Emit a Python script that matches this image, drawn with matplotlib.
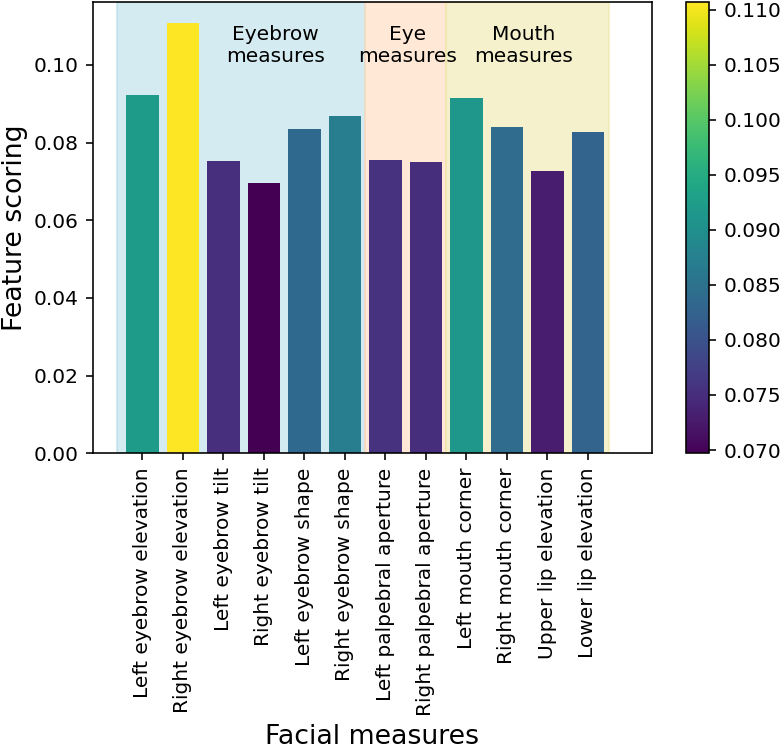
import matplotlib
matplotlib.use("Agg")
import matplotlib.pyplot as plt
import numpy as np

# feature scores per facial measure
measures = ["Left eyebrow elevation", "Right eyebrow elevation", "Left eyebrow tilt",
            "Right eyebrow tilt", "Left eyebrow shape", "Right eyebrow shape",
            "Left palpebral aperture", "Right palpebral aperture", "Left mouth corner",
            "Right mouth corner", "Upper lip elevation", "Lower lip elevation"]
scores = [0.0922, 0.1107, 0.0753, 0.0697, 0.0836, 0.0869,
          0.0755, 0.0751, 0.0916, 0.0841, 0.0728, 0.0828]

# region groups: (label, start, end, colour)
groups = ["Eyebrow\nmeasures", "Eye\nmeasures", "Mouth\nmeasures"]
group_start = [-0.62, 5.5, 7.5]
group_end = [5.5, 7.5, 11.53]
group_text_x = [3.29, 6.55, 9.42]
group_colors = ["lightblue", "peachpuff", "palegoldenrod"]
group_alpha = [0.5, 0.6, 0.6]

dpi = 145
fig = plt.figure(figsize=(782 / dpi, 752 / dpi), dpi=dpi)
ax = fig.add_axes([0.1189, 0.3972, 0.7148, 0.6001])
cax = fig.add_axes([0.8768, 0.3972, 0.0302, 0.6001])

norm = plt.Normalize(min(scores), max(scores))
cmap = plt.get_cmap("viridis")

for s, e, c, a in zip(group_start, group_end, group_colors, group_alpha):
    ax.axvspan(s, e, color=c, alpha=a)

x = np.arange(len(measures))
ax.bar(x, scores, width=0.8, color=cmap(norm(scores)))

for t, tx in zip(groups, group_text_x):
    ax.text(tx, 0.105, t, ha="center", va="center")

ax.set_xticks(x)
ax.set_xticklabels(measures, rotation=90)
ax.set_xlim(-1.22, 12.58)
ax.set_ylim(0, 0.1162)
ax.set_ylabel("Feature scoring", fontsize=13.3, labelpad=3)
ax.set_xlabel("Facial measures", fontsize=13.3)

sm = plt.cm.ScalarMappable(norm=norm, cmap=cmap)
sm.set_array([])
fig.colorbar(sm, cax=cax)

plt.savefig("out.png", dpi=dpi)
